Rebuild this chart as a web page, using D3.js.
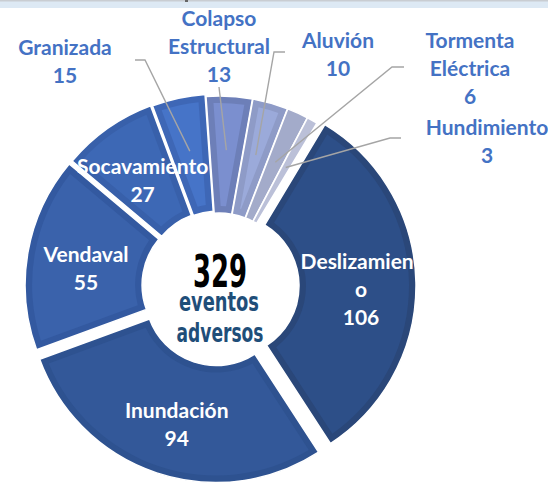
<!DOCTYPE html>
<html>
<head>
<meta charset="utf-8">
<script src="https://cdn.jsdelivr.net/npm/d3@7"></script>
<style>
  html, body { margin: 0; padding: 0; background: #fff; }
  svg { display: block; }
</style>
</head>
<body>
<div id="chart"></div>
<script>
// data
const categories = ['Colapso Estructural', 'Aluvión', 'Tormenta Eléctrica', 'Hundimiento',
  'Deslizamiento', 'Inundación', 'Vendaval', 'Socavamiento', 'Granizada'];
const values = [13, 10, 6, 3, 106, 94, 55, 27, 15];
const centerWords = ['eventos', 'adversos'];

// styling per slice
const frameColours = ['#6D7FB8', '#8E9BC7', '#A3ABCA', '#BBC0D8', '#2A4779', '#2E5290', '#3359A0', '#3860AA', '#3E67B6'];
const fillColours = ['#7B8FCF', '#9BAADA', '#A8B0D0', '#BBC0D8', '#2D4F88', '#335899', '#3A62AB', '#3D68B5', '#4674C8'];
const explode = [2, 2, 2, 2, 9, 9, 6, 5, 4];
const wrapped = { 'Colapso Estructural': ['Colapso', 'Estructural'], 'Tormenta Eléctrica': ['Tormenta', 'Eléctrica'], 'Deslizamiento': ['Deslizamient', 'o'] };
// outside labels: anchor of first line and leader line start / elbow
const outside = {
  'Colapso Estructural': { x: 219, y: 18, line: [[219, 87]] },
  'Aluvión': { x: 338, y: 40, line: [[285, 52], [274, 52]] },
  'Tormenta Eléctrica': { x: 470, y: 40, line: [[404, 67], [392, 67]] },
  'Hundimiento': { x: 487, y: 127, line: [[401, 138], [390, 138]] },
  'Granizada': { x: 65, y: 47, line: [[135, 60], [145, 60]] }
};

const config = { width: 548, height: 484, cx: 219, cy: 286, outer: 188, inner: 71, frame: 7, lineGap: 28 };
const rad = Math.PI / 180;

const svg = d3.select('#chart').append('svg')
  .attr('width', config.width).attr('height', config.height);

// thin band at the top of the screenshot
svg.append('rect').attr('x', 0).attr('y', 0).attr('width', config.width).attr('height', 8).attr('fill', '#DDE9F4');
svg.append('rect').attr('x', 0).attr('y', 0).attr('width', config.width).attr('height', 1.5).attr('fill', '#C9CDD2');
svg.append('rect').attr('x', 185).attr('y', 0).attr('width', 3).attr('height', 2).attr('fill', '#666');

const pie = d3.pie().sort(null).value(d => d).startAngle(-4 * rad).endAngle(356 * rad);
const arcs = pie(values);

const arc = d3.arc().innerRadius(config.inner).outerRadius(config.outer);
const insetArc = d3.arc()
  .innerRadius(config.inner + config.frame)
  .outerRadius(config.outer - config.frame)
  .padAngle(0.14).padRadius(config.frame * 2 / 0.14);
const pointerArc = d3.arc().innerRadius(134).outerRadius(134);
const labelArc = d3.arc().innerRadius(131).outerRadius(131);

const shift = (d, i) => {
  const a = (d.startAngle + d.endAngle) / 2;
  return [Math.sin(a) * explode[i], -Math.cos(a) * explode[i]];
};

const g = svg.append('g').attr('transform', `translate(${config.cx},${config.cy})`);

const slices = g.selectAll('g.slice').data(arcs).join('g')
  .attr('class', 'slice')
  .attr('transform', (d, i) => `translate(${shift(d, i)})`);

slices.append('path')
  .attr('d', arc)
  .attr('fill', (d, i) => frameColours[i])
  .attr('stroke', '#fff')
  .attr('stroke-width', 1.5);

slices.filter((d, i) => d.endAngle - d.startAngle > 0.15)
  .append('path')
  .attr('d', insetArc)
  .attr('fill', d => fillColours[arcs.indexOf(d)]);

// leader lines
const lineGen = d3.line();
arcs.forEach((d, i) => {
  const o = outside[categories[i]];
  if (!o) return;
  const s = shift(d, i);
  const c = pointerArc.centroid(d);
  const end = [config.cx + c[0] + s[0], config.cy + c[1] + s[1]];
  svg.append('path')
    .attr('d', lineGen(o.line.concat([end])))
    .attr('fill', 'none')
    .attr('stroke', '#A5A5A5')
    .attr('stroke-width', 1.4);
});

const fontLabel = 'Lato, "Open Sans", sans-serif';

// outside labels
arcs.forEach((d, i) => {
  const o = outside[categories[i]];
  if (!o) return;
  const lines = (wrapped[categories[i]] || [categories[i]]).concat([String(values[i])]);
  const t = svg.append('text')
    .attr('text-anchor', 'middle')
    .attr('font-family', fontLabel)
    .attr('font-weight', 'bold')
    .attr('font-size', 21)
    .attr('fill', '#4472C4');
  lines.forEach((l, k) => {
    t.append('tspan').attr('x', o.x).attr('y', o.y + k * config.lineGap).attr('dy', '0.36em').text(l);
  });
});

// inside labels (clipped at the plot area's right edge)
svg.append('clipPath').attr('id', 'plotClip')
  .append('rect').attr('x', 0).attr('y', 0).attr('width', 416).attr('height', config.height);
const inside = svg.append('g').attr('clip-path', 'url(#plotClip)');
arcs.forEach((d, i) => {
  if (outside[categories[i]]) return;
  const lines = (wrapped[categories[i]] || [categories[i]]).concat([String(values[i])]);
  const s = shift(d, i);
  const c = labelArc.centroid(d);
  const x = config.cx + c[0] + s[0] + 2;
  const y0 = config.cy + c[1] + s[1] + 6 - (lines.length - 1) * config.lineGap / 2;
  const t = inside.append('text')
    .attr('text-anchor', 'middle')
    .attr('font-family', fontLabel)
    .attr('font-weight', 'bold')
    .attr('font-size', 21)
    .attr('fill', '#fff');
  lines.forEach((l, k) => {
    t.append('tspan').attr('x', x).attr('y', y0 + k * config.lineGap).attr('dy', '0.36em').text(l);
  });
});

// centre text
const fontCentre = '"Liberation Sans Narrow", "DejaVu Sans Condensed", sans-serif';
svg.append('text')
  .attr('x', config.cx + 1).attr('y', 287)
  .attr('text-anchor', 'middle')
  .attr('font-family', fontCentre).attr('font-weight', 'bold').attr('font-size', 45)
  .attr('textLength', 54).attr('lengthAdjust', 'spacingAndGlyphs')
  .attr('fill', '#000')
  .text(d3.sum(values));
svg.append('text')
  .attr('x', config.cx).attr('y', 311)
  .attr('text-anchor', 'middle')
  .attr('font-family', fontCentre).attr('font-weight', 'bold').attr('font-size', 27)
  .attr('textLength', 80).attr('lengthAdjust', 'spacingAndGlyphs')
  .attr('fill', '#1F4E79')
  .text(centerWords[0]);
svg.append('text')
  .attr('x', config.cx + 1).attr('y', 342)
  .attr('text-anchor', 'middle')
  .attr('font-family', fontCentre).attr('font-weight', 'bold').attr('font-size', 27)
  .attr('textLength', 87).attr('lengthAdjust', 'spacingAndGlyphs')
  .attr('fill', '#1F4E79')
  .text(centerWords[1]);
</script>
</body>
</html>
